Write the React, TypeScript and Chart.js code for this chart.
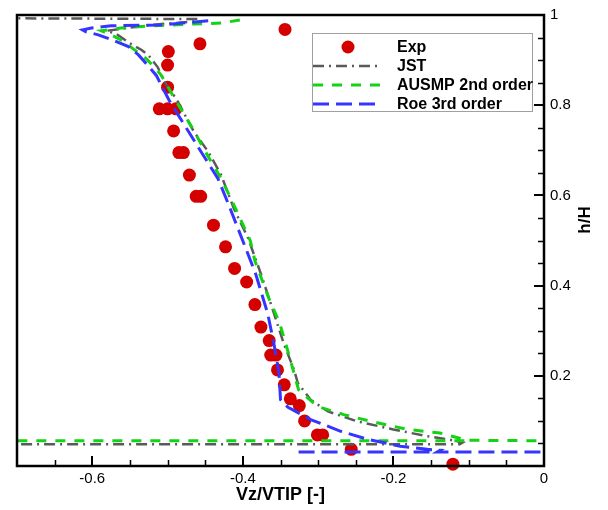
import React, { useEffect, useRef } from "react";
import { Chart, registerables } from "chart.js";

Chart.register(...registerables);

// ---- Data ----
const seriesNames = ["Exp", "JST", "AUSMP 2nd order", "Roe 3rd order"];

const expX = [-0.344, -0.457, -0.499, -0.5, -0.5, -0.511, -0.5, -0.489, -0.492, -0.485, -0.479, -0.471, -0.462, -0.456, -0.439, -0.423, -0.411, -0.395, -0.384, -0.376, -0.365, -0.363, -0.356, -0.354, -0.345, -0.337, -0.325, -0.318, -0.301, -0.294, -0.256, -0.121];
const expY = [0.968, 0.936, 0.919, 0.889, 0.84, 0.792, 0.792, 0.792, 0.743, 0.695, 0.695, 0.645, 0.598, 0.598, 0.534, 0.486, 0.438, 0.408, 0.358, 0.308, 0.278, 0.246, 0.246, 0.213, 0.18, 0.149, 0.134, 0.1, 0.069, 0.069, 0.037, 0.004];

const jstX = [-0.75, -0.46, -0.462, -0.522, -0.581, -0.568, -0.551, -0.535, -0.525, -0.513, -0.502, -0.488, -0.465, -0.446, -0.429, -0.412, -0.393, -0.376, -0.36, -0.346, -0.332, -0.327, -0.31, -0.287, -0.248, -0.2, -0.155, -0.121, -0.108, -0.112, -0.75];
const jstY = [0.993, 0.991, 0.986, 0.978, 0.965, 0.958, 0.938, 0.923, 0.91, 0.884, 0.846, 0.813, 0.741, 0.697, 0.646, 0.571, 0.505, 0.426, 0.345, 0.273, 0.213, 0.184, 0.147, 0.121, 0.099, 0.081, 0.066, 0.057, 0.052, 0.048, 0.048];

const ausmpX = [-0.404, -0.429, -0.465, -0.522, -0.562, -0.588, -0.575, -0.56, -0.528, -0.509, -0.488, -0.468, -0.448, -0.428, -0.408, -0.39, -0.384, -0.366, -0.351, -0.338, -0.326, -0.301, -0.266, -0.23, -0.181, -0.138, -0.102, 0.0, -0.4, -0.75, -0.102];
const ausmpY = [0.989, 0.982, 0.98, 0.976, 0.971, 0.965, 0.956, 0.943, 0.903, 0.868, 0.807, 0.752, 0.692, 0.635, 0.565, 0.499, 0.455, 0.374, 0.316, 0.242, 0.169, 0.132, 0.114, 0.099, 0.081, 0.073, 0.057, 0.056, null, 0.056, 0.056];

const roeX = [-0.446, -0.509, -0.575, -0.601, -0.613, -0.609, -0.592, -0.571, -0.552, -0.539, -0.526, -0.515, -0.498, -0.472, -0.453, -0.433, -0.419, -0.4, -0.383, -0.379, -0.367, -0.359, -0.352, -0.35, -0.34, -0.31, -0.27, -0.234, -0.191, -0.155, -0.138, -0.142, 0.0, -0.2, -0.326, -0.142];
const roeY = [0.987, 0.978, 0.976, 0.971, 0.967, 0.963, 0.956, 0.943, 0.93, 0.912, 0.888, 0.866, 0.811, 0.741, 0.69, 0.637, 0.58, 0.499, 0.426, 0.404, 0.338, 0.273, 0.207, 0.147, 0.13, 0.103, 0.077, 0.059, 0.044, 0.037, 0.035, 0.031, 0.031, null, 0.031, 0.031];

const xMajorTicks = [-0.6, -0.4, -0.2, 0];
const xMinorTicks = [-0.65, -0.55, -0.5, -0.45, -0.35, -0.3, -0.25, -0.15, -0.1, -0.05];
const yMajorTicks = [0.2, 0.4, 0.6, 0.8, 1];
const yMinorTicks = [0.05, 0.1, 0.15, 0.25, 0.3, 0.35, 0.45, 0.5, 0.55, 0.65, 0.7, 0.75, 0.85, 0.9, 0.95];

const xTitle = "Vz/VTIP [-]";
const yTitle = "h/H";

const FONT = "'Liberation Sans', Arial, Helvetica, sans-serif";

function toPoints(xs: number[], ys: (number | null)[]) {
  return xs.map((x, i) => ({ x, y: ys[i] }));
}

const decorPlugin = {
  id: "decor",
  afterDatasetsDraw(chart: any) {
    const { ctx, chartArea: a, scales } = chart;
    const xs = scales.x;
    const ys = scales.y;
    ctx.save();
    ctx.strokeStyle = "#000";
    // major ticks
    ctx.lineWidth = 2;
    ctx.beginPath();
    xMajorTicks.forEach((v) => {
      const p = Math.round(xs.getPixelForValue(v));
      ctx.moveTo(p, a.bottom);
      ctx.lineTo(p, a.bottom - 10);
    });
    yMajorTicks.forEach((v) => {
      const p = Math.round(ys.getPixelForValue(v));
      ctx.moveTo(a.right, p);
      ctx.lineTo(a.right - 10, p);
    });
    ctx.stroke();
    ctx.lineWidth = 1.5;
    ctx.beginPath();
    xMinorTicks.forEach((v) => {
      const p = Math.round(xs.getPixelForValue(v)) + 0.5;
      ctx.moveTo(p, a.bottom);
      ctx.lineTo(p, a.bottom - 6);
    });
    yMinorTicks.forEach((v) => {
      const p = Math.round(ys.getPixelForValue(v)) + 0.5;
      ctx.moveTo(a.right, p);
      ctx.lineTo(a.right - 6, p);
    });
    ctx.stroke();
    // frame
    ctx.lineWidth = 2.5;
    ctx.strokeRect(a.left, a.top, a.right - a.left, a.bottom - a.top);

    // y title
    ctx.save();
    ctx.translate(585, 220);
    ctx.rotate(-Math.PI / 2);
    ctx.font = `bold 17px ${FONT}`;
    ctx.fillStyle = "#000";
    ctx.textAlign = "center";
    ctx.textBaseline = "middle";
    ctx.fillText(yTitle, 0, 0);
    ctx.restore();

    // legend
    const bx = 312.5, by = 33.5, bw = 220, bh = 78;
    ctx.fillStyle = "#fff";
    ctx.fillRect(bx, by, bw, bh);
    ctx.strokeStyle = "#a0a0a0";
    ctx.lineWidth = 1;
    ctx.strokeRect(bx, by, bw, bh);
    const rows = [47, 66, 85, 104];
    chart.data.datasets.forEach((ds: any, i: number) => {
      const yy = rows[i];
      if (!ds.showLine) {
        ctx.fillStyle = ds.backgroundColor;
        ctx.beginPath();
        ctx.arc(348, yy, ds.pointRadius, 0, Math.PI * 2);
        ctx.fill();
      } else {
        ctx.save();
        ctx.strokeStyle = ds.borderColor;
        ctx.lineWidth = ds.borderWidth;
        ctx.setLineDash(ds.borderDash || []);
        ctx.beginPath();
        ctx.moveTo(313, yy);
        ctx.lineTo(380, yy);
        ctx.stroke();
        ctx.restore();
      }
      ctx.fillStyle = "#000";
      ctx.font = `bold 16px ${FONT}`;
      ctx.textAlign = "left";
      ctx.textBaseline = "middle";
      ctx.fillText(ds.label, 397, yy + 1);
    });
    ctx.restore();
  },
};

export default function App() {
  const ref = useRef<HTMLCanvasElement | null>(null);

  useEffect(() => {
    if (!ref.current) return;
    Chart.defaults.font.family = FONT;
    const chart = new Chart(ref.current, {
      type: "scatter",
      data: {
        datasets: [
          {
            label: seriesNames[0],
            data: toPoints(expX, expY),
            showLine: false,
            pointRadius: 6.5,
            pointBackgroundColor: "#d40000",
            backgroundColor: "#d40000",
            pointBorderWidth: 0,
            borderWidth: 0,
            order: 4,
            clip: false,
          } as any,
          {
            label: seriesNames[1],
            data: toPoints(jstX, jstY),
            showLine: true,
            borderColor: "#5a5a5a",
            borderWidth: 2.5,
            borderDash: [11, 5, 2, 5],
            pointRadius: 0,
            tension: 0,
            order: 3,
          },
          {
            label: seriesNames[2],
            data: toPoints(ausmpX, ausmpY),
            showLine: true,
            borderColor: "#14d214",
            borderWidth: 3,
            borderDash: [10, 9],
            pointRadius: 0,
            tension: 0,
            order: 2,
          },
          {
            label: seriesNames[3],
            data: toPoints(roeX, roeY),
            showLine: true,
            borderColor: "#3535ff",
            borderWidth: 3,
            borderDash: [16, 7],
            pointRadius: 0,
            tension: 0,
            order: 1,
          },
        ],
      },
      options: {
        responsive: false,
        animation: false,
        devicePixelRatio: 1,
        layout: { padding: { left: 17, top: 12, right: 0, bottom: 0 } },
        plugins: {
          legend: { display: false },
          tooltip: { enabled: false },
        },
        scales: {
          x: {
            type: "linear",
            position: "bottom",
            min: -0.7,
            max: 0,
            grid: { display: false, drawTicks: false },
            border: { display: false },
            afterBuildTicks: (s: any) => {
              s.ticks = xMajorTicks.map((v) => ({ value: v }));
            },
            afterFit: (s: any) => {
              s.height = 44;
            },
            ticks: {
              color: "#000",
              font: { size: 15 },
              padding: 4,
              maxRotation: 0,
              callback: (v: any) => String(Number(Number(v).toFixed(2))),
            },
            title: {
              display: true,
              text: xTitle,
              color: "#000",
              font: { size: 18, weight: "bold" },
              padding: { top: 0, bottom: 4 },
            },
          },
          y: {
            type: "linear",
            position: "right",
            min: 0,
            max: 1,
            grid: { display: false, drawTicks: false },
            border: { display: false },
            afterBuildTicks: (s: any) => {
              s.ticks = yMajorTicks.map((v) => ({ value: v }));
            },
            afterFit: (s: any) => {
              s.width = 64;
            },
            ticks: {
              color: "#000",
              font: { size: 15 },
              padding: 6,
              callback: (v: any) => String(Number(Number(v).toFixed(2))),
            },
          },
        },
      },
      plugins: [decorPlugin],
    });
    return () => chart.destroy();
  }, []);

  return (
    <div style={{ position: "absolute", left: 0, top: 0, width: 608, height: 510, background: "#fff" }}>
      <canvas ref={ref} width={608} height={510} style={{ width: 608, height: 510, display: "block" }} />
    </div>
  );
}
